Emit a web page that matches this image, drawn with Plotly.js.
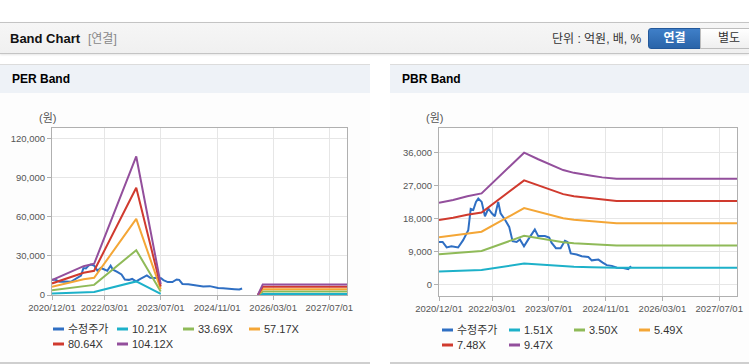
<!DOCTYPE html>
<html><head><meta charset="utf-8">
<script src="https://cdn.plot.ly/plotly-3.0.1.min.js"></script>
<style>
body{margin:0;width:749px;height:364px;overflow:hidden;background:#fff;position:relative;font-family:"Liberation Sans","Noto Sans CJK KR",sans-serif}
.abs{position:absolute}
#hdr{left:0;top:22px;width:749px;height:30px;background:linear-gradient(#f6f6f6,#f0f0f0);border-top:1px solid #c4c4c4;border-bottom:1px solid #c4c4c4;box-shadow:0 1px 2px rgba(0,0,0,0.10)}
#ttl{left:10px;top:31px;font-size:13px;font-weight:bold;color:#111;line-height:16px}
#sub{left:88px;top:31px;font-size:12px;color:#888;line-height:16px}
#unit{left:552px;top:31px;font-size:12px;color:#333;line-height:16px}
#b1{left:648px;top:28px;width:51px;height:19px;background:linear-gradient(#3f7fc8,#2a64a9);border:1px solid #23589a;border-radius:3px 0 0 3px;color:#fff;font-weight:bold;font-size:12px;line-height:19px;text-align:center;box-sizing:content-box}
#b2{left:700px;top:28px;width:56px;height:19px;background:linear-gradient(#ffffff,#efefef);border:1px solid #bdbdbd;color:#333;font-size:12px;line-height:19px;text-align:center}
.panel{top:64px;height:297px;background:#fdfdfd;border-top:1px solid #dcdcdc;border-bottom:2px solid #cfcfcf}
.phead{left:0;top:0;right:0;height:28px;background:#eef2f7}
.ptitle{top:7px;font-size:12px;font-weight:bold;color:#000;line-height:15px}
</style></head>
<body>
<div id="hdr" class="abs"></div>
<div id="ttl" class="abs">Band Chart</div>
<div id="sub" class="abs">[연결]</div>
<div id="unit" class="abs">단위 : 억원, 배, %</div>
<div id="b1" class="abs">연결</div>
<div id="b2" class="abs">별도</div>
<div class="abs panel" style="left:0;width:370px"><div class="abs phead"></div><div class="abs ptitle" style="left:12px">PER Band</div></div>
<div class="abs panel" style="left:390px;width:359px"><div class="abs phead"></div><div class="abs ptitle" style="left:12px">PBR Band</div></div>
<div id="per" class="abs" style="left:0;top:93px;width:370px;height:269px"></div>
<div id="pbr" class="abs" style="left:390px;top:93px;width:359px;height:269px"></div>
<script>
// ---- shared price series (수정주가) ----
const priceDates = ['2020-12-01','2021-01-01','2021-02-05','2021-03-18','2021-05-14','2021-06-26','2021-08-09','2021-08-30','2021-09-21','2021-10-14','2021-11-03','2021-12-02','2021-12-30','2022-01-28','2022-02-27','2022-03-25','2022-04-23','2022-05-13','2022-06-19','2022-07-26','2022-08-24','2022-09-28','2022-10-26','2022-11-30','2023-01-06','2023-03-03','2023-04-01','2023-05-28','2023-07-04','2023-07-24','2023-08-31','2023-10-10','2023-11-16','2023-12-08','2024-01-05','2024-02-25','2024-04-08','2024-06-04','2024-07-03','2024-08-29','2024-10-05','2024-11-09','2024-12-22','2025-02-04','2025-03-31','2025-05-12','2025-06-05'];
const price = [11600,11600,10100,10400,10100,12100,14800,20600,20300,22500,23400,22500,18600,20700,19400,18600,22500,19400,17700,15700,11800,11600,12300,10400,12300,15000,13200,13200,12800,11400,9900,9900,11900,11600,8500,8200,7700,7500,6600,6800,6000,5300,5100,4600,4500,4200,5000];

// ---- PER band ----
const perNames = ['수정주가','10.21X','33.69X','57.17X','80.64X','104.12X'];
const perDates = ['2020-12-01','2021-09-01','2021-12-01','2022-12-01','2023-07-01','2023-08-01','2025-10-20','2025-12-01','2027-12-01'];
const per1 = [1123, 2165, 2348, 10414, 817, null, 0, 796, 796];
const per2 = [3706, 7142, 7749, 34364, 2695, null, 0, 2628, 2628];
const per3 = [6289, 12120, 13149, 58313, 4574, null, 0, 4459, 4459];
const per4 = [8870, 17096, 18547, 82253, 6451, null, 0, 6290, 6290];
const per5 = [11453, 22073, 23948, 106202, 8330, null, 0, 8121, 8121];
const perTicksY = [0, 30000, 60000, 90000, 120000];

// ---- PBR band ----
const pbrNames = ['수정주가','1.51X','3.50X','5.49X','7.48X','9.47X'];
const pbrDates = ['2020-12-01','2021-04-01','2021-08-01','2021-12-01','2022-12-01','2023-04-01','2023-11-01','2024-02-01','2024-07-01','2024-10-01','2025-02-01','2027-12-01'];
const pbr1 = [3549, 3669, 3835, 3956, 5723, 5436, 4968, 4847, 4726, 4651, 4590, 4590];
const pbr2 = [8225, 8505, 8890, 9170, 13265, 12600, 11515, 11235, 10955, 10780, 10640, 10640];
const pbr3 = [12902, 13341, 13945, 14384, 20807, 19764, 18062, 17623, 17184, 16909, 16690, 16690];
const pbr4 = [17578, 18176, 19000, 19598, 28349, 26928, 24609, 24011, 23412, 23038, 22739, 22739];
const pbr5 = [22255, 23012, 24054, 24811, 35891, 34092, 31156, 30399, 29641, 29168, 28789, 28789];
const pbrTicksY = [0, 9000, 18000, 27000, 36000];

// ---- x ticks ----
const xTickVals = ['2020-12-01','2022-03-01','2023-07-01','2024-11-01','2026-03-01','2027-07-01'];
const xTickText = ['2020/12/01','2022/03/01','2023/07/01','2024/11/01','2026/03/01','2027/07/01'];

const colors = ['#2f6fc3','#1db1c9','#8fba58','#f4a636','#d03a2e','#934f9c'];
const FONT = 'Liberation Sans, Noto Sans CJK KR, sans-serif';

function build(div, names, bandDates, bands, yTicks, yRange, m, W, H, legCols) {
  const traces = [{x: priceDates, y: price, name: names[0], type: 'scatter', mode: 'lines',
                   line: {color: colors[0], width: 2}}];
  bands.forEach((b, i) => traces.push({x: bandDates, y: b, name: names[i+1], type: 'scatter', mode: 'lines',
                   connectgaps: false, line: {color: colors[i+1], width: 2}}));
  const pw = W - m.l - m.r, ph = H - m.t - m.b;
  const px = v => (v - m.l) / pw;           // div pixel -> paper x
  const py = v => (H - m.b - v) / ph;       // div pixel -> paper y
  const shapes = [], ann = [];
  const rows = [H - m.b + 34, H - m.b + 49];
  names.forEach((n, i) => {
    const c = legCols[i % 4], r = rows[Math.floor(i / 4)];
    shapes.push({type: 'line', xref: 'paper', yref: 'paper', x0: px(c), x1: px(c + 11), y0: py(r), y1: py(r),
                 line: {color: colors[i], width: 3}});
    ann.push({xref: 'paper', yref: 'paper', x: px(c + 13), y: py(r), xanchor: 'left', yanchor: 'middle',
              text: n, showarrow: false, font: {family: FONT, size: 11, color: '#333'}});
  });
  ann.push({xref: 'paper', yref: 'paper', x: px(m.l - 5), y: py(25), xanchor: 'center', yanchor: 'middle',
            text: '(원)', showarrow: false, font: {family: FONT, size: 11, color: '#555'}});
  const axBase = {showgrid: true, gridcolor: '#e6e6e6', gridwidth: 1, showline: true, linecolor: '#b0b0b0',
                  linewidth: 1, mirror: true, ticks: 'outside', ticklen: 4, tickcolor: '#b0b0b0',
                  zeroline: false, tickfont: {family: FONT, size: 9.5, color: '#555'}, fixedrange: true};
  const layout = {
    width: W, height: H, margin: m, showlegend: false,
    paper_bgcolor: 'rgba(0,0,0,0)', plot_bgcolor: '#ffffff',
    font: {family: FONT},
    xaxis: Object.assign({}, axBase, {type: 'date', range: ['2020-12-01', '2027-12-01'],
            tickmode: 'array', tickvals: xTickVals, ticktext: xTickText}),
    yaxis: Object.assign({}, axBase, {range: yRange, tickmode: 'array', tickvals: yTicks, tickformat: ','}),
    shapes: shapes, annotations: ann
  };
  Plotly.newPlot(div, traces, layout, {displayModeBar: false, staticPlot: true});
}

build('per', perNames, perDates, [per1, per2, per3, per4, per5], perTicksY, [0, 128000],
      {l: 52, r: 23, t: 35, b: 67, pad: 0}, 370, 269, [53, 117, 183, 249]);
build('pbr', pbrNames, pbrDates, [pbr1, pbr2, pbr3, pbr4, pbr5], pbrTicksY, [-3100, 42600],
      {l: 49, r: 12, t: 35, b: 66, pad: 0}, 359, 269, [52, 119, 184, 249]);
</script>
</body></html>
